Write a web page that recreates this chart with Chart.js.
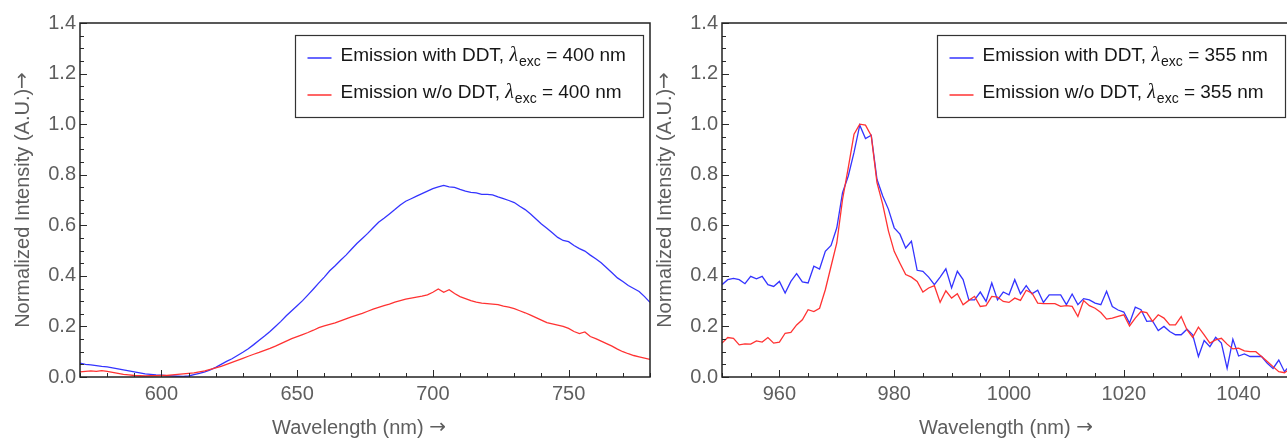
<!DOCTYPE html>
<html>
<head>
<meta charset="utf-8">
<script src="https://cdn.jsdelivr.net/npm/chart.js@4.4.1/dist/chart.umd.min.js"></script>
<style>
  html, body { margin: 0; padding: 0; background: #fff; overflow: hidden; width: 1287px; height: 441px; }
  canvas { position: absolute; top: 0; }
  #visChart { left: 0; }
  #nirChart { left: 655px; }
</style>
</head>
<body>
<canvas id="visChart" width="655" height="441" style="width:655px;height:441px"></canvas>
<canvas id="nirChart" width="645" height="441" style="width:645px;height:441px"></canvas>
<script>
// Visible band, excitation at 400 nm (wavelength in nm, 2 nm steps)
const visWavelength = [570,572,574,576,578,580,582,584,586,588,590,592,594,596,598,600,602,604,606,608,
  610,612,614,616,618,620,622,624,626,628,630,632,634,636,638,640,642,644,646,648,
  650,652,654,656,658,660,662,664,666,668,670,672,674,676,678,680,682,684,686,688,
  690,692,694,696,698,700,702,704,706,708,710,712,714,716,718,720,722,724,726,728,
  730,732,734,736,738,740,742,744,746,748,750,752,754,756,758,760,762,764,766,768,
  770,772,774,776,778,780];
const visWithDDT = [0.055,0.050,0.048,0.045,0.042,0.040,0.036,0.032,0.028,0.024,0.020,0.016,0.012,0.010,0.008,0.007,0.005,0.004,0.003,0.002,
  0.004,0.009,0.014,0.020,0.028,0.038,0.050,0.062,0.072,0.085,0.098,0.112,0.128,0.145,0.162,0.180,0.200,0.220,0.242,0.262,
  0.282,0.302,0.325,0.348,0.372,0.395,0.420,0.440,0.462,0.482,0.505,0.528,0.548,0.568,0.590,0.612,0.628,0.645,0.662,0.680,
  0.695,0.705,0.715,0.725,0.735,0.745,0.752,0.758,0.752,0.750,0.742,0.735,0.730,0.728,0.722,0.722,0.720,0.712,0.705,0.698,
  0.690,0.675,0.662,0.645,0.625,0.605,0.588,0.570,0.552,0.540,0.535,0.520,0.508,0.498,0.482,0.468,0.452,0.432,0.412,0.392,
  0.378,0.362,0.350,0.338,0.318,0.295];
const visWithoutDDT = [0.020,0.022,0.024,0.022,0.025,0.022,0.018,0.014,0.010,0.008,0.006,0.005,0.004,0.005,0.005,0.006,0.006,0.008,0.010,0.012,
  0.014,0.016,0.020,0.024,0.030,0.036,0.042,0.050,0.058,0.066,0.074,0.082,0.090,0.097,0.105,0.113,0.122,0.132,0.142,0.152,
  0.160,0.168,0.176,0.185,0.195,0.202,0.208,0.214,0.222,0.230,0.238,0.245,0.252,0.260,0.268,0.275,0.282,0.288,0.296,0.302,
  0.308,0.312,0.316,0.320,0.325,0.335,0.348,0.335,0.345,0.330,0.318,0.310,0.302,0.296,0.292,0.290,0.288,0.286,0.280,0.276,
  0.270,0.262,0.254,0.245,0.235,0.225,0.215,0.210,0.205,0.200,0.192,0.180,0.172,0.178,0.160,0.152,0.142,0.132,0.122,0.110,
  0.100,0.092,0.085,0.080,0.075,0.070];

// Near-infrared band, excitation at 355 nm (wavelength in nm, 1 nm steps)
const nirWavelength = [950,951,952,953,954,955,956,957,958,959,960,961,962,963,964,965,966,967,968,969,
  970,971,972,973,974,975,976,977,978,979,980,981,982,983,984,985,986,987,988,989,
  990,991,992,993,994,995,996,997,998,999,1000,1001,1002,1003,1004,1005,1006,1007,1008,1009,
  1010,1011,1012,1013,1014,1015,1016,1017,1018,1019,1020,1021,1022,1023,1024,1025,1026,1027,1028,1029,
  1030,1031,1032,1033,1034,1035,1036,1037,1038,1039,1040,1041,1042,1043,1044,1045,1046,1047,1048,1049];
const nirWithDDT = [0.365,0.385,0.390,0.385,0.369,0.398,0.388,0.398,0.365,0.358,0.378,0.332,0.378,0.409,0.376,0.372,0.438,0.427,0.497,0.520,
  0.590,0.729,0.795,0.888,0.996,0.943,0.956,0.782,0.716,0.663,0.590,0.565,0.510,0.537,0.422,0.418,0.395,0.365,0.395,0.428,
  0.352,0.418,0.385,0.305,0.305,0.336,0.299,0.372,0.305,0.336,0.325,0.385,0.329,0.361,0.329,0.343,0.295,0.325,0.325,0.325,
  0.286,0.328,0.286,0.310,0.305,0.292,0.286,0.339,0.279,0.265,0.257,0.213,0.276,0.266,0.220,0.222,0.184,0.200,0.180,0.167,
  0.167,0.189,0.167,0.081,0.144,0.120,0.157,0.134,0.034,0.149,0.083,0.091,0.081,0.081,0.081,0.054,0.034,0.067,0.021,0.048];
const nirWithoutDDT = [0.134,0.156,0.153,0.127,0.131,0.130,0.143,0.138,0.156,0.134,0.138,0.173,0.176,0.206,0.226,0.266,0.259,0.272,0.345,0.438,
  0.530,0.702,0.828,0.960,1.000,0.996,0.954,0.769,0.683,0.577,0.497,0.450,0.405,0.395,0.378,0.336,0.352,0.361,0.295,0.341,
  0.312,0.329,0.286,0.303,0.319,0.279,0.282,0.319,0.316,0.299,0.295,0.312,0.303,0.343,0.332,0.292,0.290,0.290,0.290,0.279,
  0.282,0.279,0.239,0.302,0.282,0.272,0.255,0.229,0.233,0.240,0.246,0.202,0.233,0.259,0.255,0.220,0.246,0.233,0.206,0.206,
  0.239,0.187,0.157,0.197,0.167,0.134,0.147,0.153,0.130,0.111,0.114,0.103,0.100,0.100,0.081,0.061,0.041,0.021,0.017,0.034];

// Axis tick labels
const visTicks = [600, 650, 700, 750];
const nirTicks = [960, 980, 1000, 1020, 1040];
const intensityTicks = [0, 0.2, 0.4, 0.6, 0.8, 1.0, 1.2, 1.4];

// Axis titles and legend text
const xTitle = 'Wavelength (nm) ';
const yTitle = 'Normalized Intensity (A.U.)';
const seriesNames = ['Emission with DDT, ', 'Emission w/o DDT, '];
const visExcitation = '400';
const nirExcitation = '355';

const BLUE = '#3434ff';
const RED = '#ff3232';
const LABEL_GREY = '#5e5e5e';
const SANS = '"Liberation Sans", Arial, sans-serif';
const ARROW_FONT = '20px "DejaVu Sans", sans-serif';

// Inward ticks on the frame plus the frame itself
const framePlugin = {
  id: 'frameTicks',
  afterDatasetsDraw(chart, args, o) {
    const { ctx, chartArea: a, scales: { x, y } } = chart;
    ctx.save();
    ctx.strokeStyle = '#2a2a2a';
    ctx.lineWidth = 1;
    ctx.beginPath();
    const nx = Math.round((x.max - x.min) / o.xMinor);
    for (let i = 0; i <= nx; i++) {
      const v = x.min + i * o.xMinor;
      const px = Math.round(x.getPixelForValue(v)) + 0.5;
      const major = o.xMajor.some(m => Math.abs(m - v) < 1e-6);
      ctx.moveTo(px, a.bottom);
      ctx.lineTo(px, a.bottom - (major ? 7 : 4));
    }
    const ny = Math.round((y.max - y.min) / 0.05);
    for (let i = 0; i <= ny; i++) {
      const v = y.min + i * 0.05;
      const py = Math.round(y.getPixelForValue(v)) + 0.5;
      ctx.moveTo(a.left, py);
      ctx.lineTo(a.left + (i % 4 === 0 ? 7 : 4), py);
    }
    ctx.stroke();
    ctx.strokeStyle = '#222';
    ctx.lineWidth = 1.5;
    ctx.strokeRect(a.left, a.top, a.right - a.left, a.bottom - a.top);
    ctx.restore();
  }
};

// Axis titles: label text followed by a full-size arrow glyph
function drawTitle(ctx, text, cx, cy) {
  ctx.font = '20px ' + SANS;
  const w1 = ctx.measureText(text).width;
  ctx.font = ARROW_FONT;
  const w2 = ctx.measureText('→').width;
  let x = cx - (w1 + w2) / 2;
  ctx.font = '20px ' + SANS;
  ctx.fillText(text, x, cy);
  ctx.font = ARROW_FONT;
  ctx.fillText('→', x + w1, cy);
}
const titlePlugin = {
  id: 'axisTitles',
  afterDraw(chart, args, o) {
    const { ctx, chartArea: a } = chart;
    ctx.save();
    ctx.fillStyle = LABEL_GREY;
    ctx.textAlign = 'left';
    ctx.textBaseline = 'middle';
    drawTitle(ctx, xTitle, (a.left + a.right) / 2 - o.xShift, 428);
    ctx.translate(o.yTitleX, (a.top + a.bottom) / 2);
    ctx.rotate(-Math.PI / 2);
    drawTitle(ctx, yTitle, 0, 0);
    ctx.restore();
  }
};

// Boxed legend with italic lambda and "exc" subscript
const legendPlugin = {
  id: 'spectraLegend',
  afterDraw(chart, args, o) {
    const { ctx, chartArea: a } = chart;
    const bx = Math.round(a.left + o.offsetX) + 0.5;
    const by = Math.round(a.top + o.offsetY) + 0.5;
    ctx.save();
    ctx.fillStyle = '#fff';
    ctx.fillRect(bx, by, o.width, o.height);
    ctx.strokeStyle = '#333';
    ctx.lineWidth = 1.2;
    ctx.strokeRect(bx, by, o.width, o.height);
    ctx.textAlign = 'left';
    ctx.textBaseline = 'alphabetic';
    const mainFont = '19px ' + SANS;
    seriesNames.forEach((name, i) => {
      const base = by + 25 + i * 37;
      const ly = base - 2.5;
      ctx.strokeStyle = o.colors[i];
      ctx.lineWidth = 1.5;
      ctx.beginPath();
      ctx.moveTo(bx + 12, ly);
      ctx.lineTo(bx + 36, ly);
      ctx.stroke();
      let tx = bx + 45;
      ctx.fillStyle = '#161616';
      ctx.font = mainFont;
      ctx.fillText(name, tx, base);
      tx += ctx.measureText(name).width;
      ctx.font = 'italic 20px "Liberation Serif", serif';
      ctx.fillText('λ', tx, base);
      tx += ctx.measureText('λ').width + 1;
      ctx.font = '14px ' + SANS;
      ctx.fillText('exc', tx, base + 5);
      tx += ctx.measureText('exc').width;
      ctx.font = mainFont;
      ctx.fillText(' = ' + o.excitation + ' nm', tx, base);
    });
    ctx.restore();
  }
};

function makeChart(id, cfg) {
  const tickFont = { family: SANS, size: 20 };
  return new Chart(document.getElementById(id), {
    type: 'line',
    data: {
      datasets: [
        { data: cfg.x.map((v, i) => ({ x: v, y: cfg.blue[i] })), borderColor: BLUE, borderWidth: 1.3, pointRadius: 0, tension: 0, order: 1 },
        { data: cfg.x.map((v, i) => ({ x: v, y: cfg.red[i] })), borderColor: RED, borderWidth: 1.3, pointRadius: 0, tension: 0, order: 0 }
      ]
    },
    options: {
      responsive: false,
      animation: false,
      devicePixelRatio: 1,
      layout: { padding: { top: 23, right: cfg.padRight, bottom: 0, left: 0 } },
      plugins: {
        legend: { display: false },
        tooltip: { enabled: false },
        frameTicks: { xMinor: cfg.xMinor, xMajor: cfg.ticks },
        axisTitles: { yTitleX: cfg.yTitleX, xShift: cfg.xShift },
        spectraLegend: { offsetX: 215, offsetY: 12, width: 348, height: 82, colors: [BLUE, RED], excitation: cfg.excitation }
      },
      scales: {
        x: {
          type: 'linear', min: cfg.min, max: cfg.max,
          grid: { display: false, drawTicks: false },
          border: { display: false },
          afterBuildTicks: s => { s.ticks = cfg.ticks.map(v => ({ value: v })); },
          afterFit: s => { s.height = 64; },
          ticks: { color: LABEL_GREY, font: tickFont, padding: 5, maxRotation: 0, autoSkip: false, callback: v => String(v) }
        },
        y: {
          min: 0, max: 1.4,
          grid: { display: false, drawTicks: false },
          border: { display: false },
          afterBuildTicks: s => { s.ticks = intensityTicks.map(v => ({ value: v })); },
          afterFit: s => { s.width = cfg.yWidth; },
          ticks: { color: LABEL_GREY, font: tickFont, padding: 4, callback: v => Number(v).toFixed(1) }
        }
      }
    },
    plugins: [framePlugin, titlePlugin, legendPlugin]
  });
}

makeChart('visChart', {
  x: visWavelength, blue: visWithDDT, red: visWithoutDDT,
  min: 570, max: 780, ticks: visTicks, xMinor: 10,
  yWidth: 80, yTitleX: 23, xShift: 6, padRight: 5, excitation: visExcitation
});
makeChart('nirChart', {
  x: nirWavelength, blue: nirWithDDT, red: nirWithoutDDT,
  min: 950, max: 1050, ticks: nirTicks, xMinor: 5,
  yWidth: 67, yTitleX: 10, xShift: 3, padRight: 4, excitation: nirExcitation
});
</script>
</body>
</html>
